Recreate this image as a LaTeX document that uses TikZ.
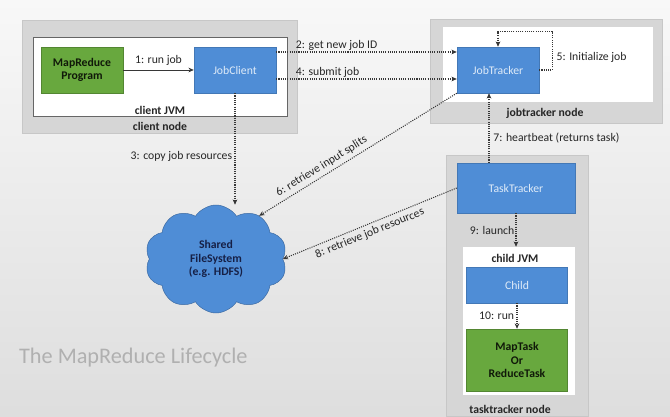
\documentclass[tikz,border=0pt]{standalone}
\usepackage{fontspec}
\setmainfont{Carlito}
\usetikzlibrary{arrows.meta,positioning,calc,fit,shapes.symbols}
\definecolor{jobblue}{RGB}{79,141,214}
\definecolor{jobgreen}{RGB}{104,168,62}
\definecolor{cloudline}{RGB}{58,104,160}
\definecolor{navy}{RGB}{22,32,70}
\definecolor{ink}{RGB}{55,55,55}
\definecolor{shell}{RGB}{214,214,214}
\definecolor{paper}{RGB}{248,248,248}
\definecolor{faded}{RGB}{176,176,176}
\tikzset{
  base/.style={font=\fontsize{10}{11.5}\selectfont,align=center},
  bluebox/.style={base,fill=jobblue,draw=jobblue!85!black,text=white!82!jobblue,minimum width=2.46cm,minimum height=1.38cm},
  greenbox/.style={base,font=\fontsize{10}{11.5}\selectfont\bfseries,fill=jobgreen,draw=jobgreen!80!black,text=black!85!jobgreen,minimum width=2.46cm,minimum height=1.38cm},
  shellbox/.style={fill=shell,draw=black!22,inner sep=0pt},
  jvm/.style={fill=white,inner sep=0pt},
  lab/.style={base,text=black!85},
  tag/.style={base,font=\fontsize{10}{11.5}\selectfont\bfseries,text=black!85},
  arr/.style={-{Stealth[length=1.6mm,width=1.4mm]},densely dotted,line width=.9pt,draw=ink},
  runarr/.style={-{Stealth[length=1.6mm,width=1.4mm]},line width=.8pt,draw=ink}
}
\begin{document}
\begin{tikzpicture}[x=.03cm,y=.03cm]
  \shade[top color=paper,bottom color=black!13] (0,0) rectangle (670,416);
  \useasboundingbox (0,0) rectangle (670,416);

  \node[shellbox,fit={(22,396) (297,283)}] (cnode) {};
  \node[jvm,draw=black!60,fit={(33,379) (287,300)}] (cjvm) {};
  \node[shellbox,fit={(430,397) (662,293)}] (jnode) {};
  \node[jvm,fit={(443,389) (653,314)}] (jjvm) {};
  \node[shellbox,fit={(446,261) (588,0)}] (tnode) {};
  \node[jvm,fit={(463,169) (575,21)}] (tjvm) {};

  \node[greenbox] (prog) at (82,346) {MapReduce\\Program};
  \node[bluebox] (jclient) at (235,346) {JobClient};
  \node[bluebox] (jtracker) at (498,346) {JobTracker};
  \node[bluebox,minimum width=3.54cm,minimum height=1.5cm] (ttracker) at (516,228) {TaskTracker};
  \node[bluebox,minimum width=3.03cm,minimum height=1.08cm] (child) at (517,131) {Child};
  \node[greenbox,minimum width=3.03cm,minimum height=1.86cm] (task) at (517,56) {MapTask\\Or\\ReduceTask};
  \node[cloud,cloud puffs=10,cloud puff arc=115,minimum width=4.26cm,minimum height=3.24cm,fill=jobblue,draw=cloudline,base,font=\fontsize{10}{11.5}\selectfont\bfseries,text=navy] (hdfs) at (216,157) {Shared\\FileSystem\\(e.g. HDFS)};

  \node[tag] (cjvmlab) at (160,306) {client JVM};
  \node[tag] (cnodelab) at (160,290) {client node};
  \node[tag] (jnodelab) at (545,303) {jobtracker node};
  \node[tag] (tjvmlab) at (515,158) {child JVM};
  \node[tag] (tnodelab) at (510,7) {tasktracker node};
  \node[font=\fontsize{19}{22}\selectfont,text=faded,anchor=west] (title) at (15,58) {The MapReduce Lifecycle};

  \draw[runarr] (prog) -- node[lab,above] {1: run job} (jclient);
  \draw[arr] ([yshift=.54cm]jclient.east) -- node[lab,above right,pos=.1,inner sep=1pt] {2: get new job ID} ([yshift=.54cm]jtracker.west);
  \draw[arr] ([yshift=-.27cm]jclient.east) -- node[lab,above right,pos=.1,inner sep=1pt] {4: submit job} ([yshift=-.27cm]jtracker.west);
  \draw[arr] (jtracker.east) -- ++(13,0) |- node[lab,right,pos=.17] {5: Initialize job} ([yshift=.45cm]jtracker.north) -- (jtracker.north);
  \draw[arr] (jclient.south) -- node[lab,left,pos=.57,inner sep=2pt] {3: copy job resources} (jclient.south |- hdfs.north);
  \draw[arr] (jtracker.south west) -- node[lab,sloped,above,pos=.66,inner sep=3pt] {6: retrieve input splits} (hdfs.45);
  \coordinate (beat) at (489,0);
  \draw[arr] (ttracker.north -| beat) -- node[lab,right,pos=.36] {7: heartbeat (returns task)} (jtracker.south -| beat);
  \draw[arr] (ttracker.west) -- node[lab,sloped,below,pos=.52,inner sep=3pt] {8: retrieve job resources} (hdfs.east);
  \draw[arr] (ttracker.south) -- node[lab,left,inner sep=1pt] {9: launch} (tjvm.north -| ttracker.south);
  \draw[arr] (child) -- node[lab,left,inner sep=2pt] {10: run} (task);
\end{tikzpicture}
\end{document}
